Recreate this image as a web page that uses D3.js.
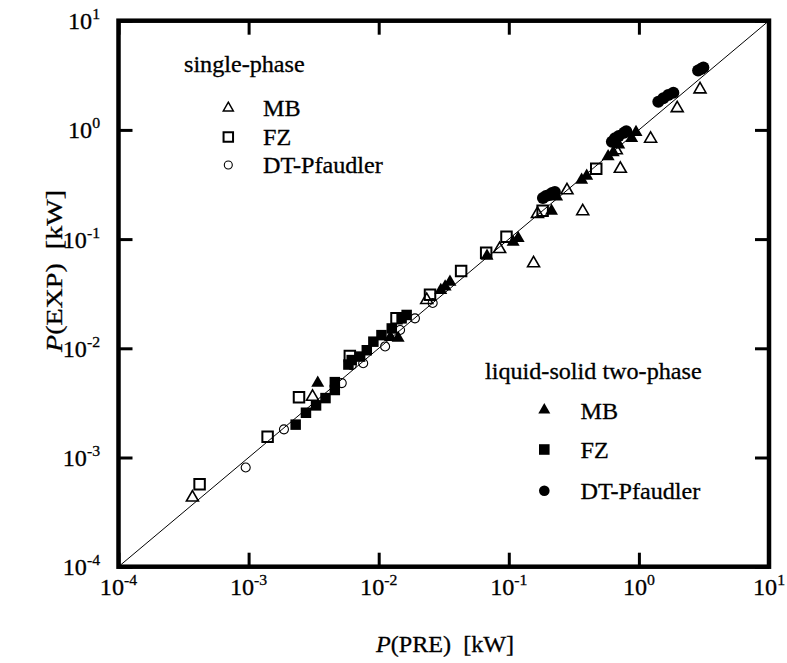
<!DOCTYPE html>
<html>
<head>
<meta charset="utf-8">
<script src="https://cdn.jsdelivr.net/npm/d3@7"></script>
<style>
  body { margin: 0; background: #fff; }
  svg text { font-family: "Liberation Serif", "Times New Roman", serif; fill: #000; stroke: #000; stroke-width: 0.3px; }
</style>
</head>
<body>
<div id="chart"></div>
<script>
// decades on both axes (10^-4 .. 10^1)
const tickExps = [-4, -3, -2, -1, 0, 1];

// single-phase, open markers: [P(PRE), P(EXP)] in kW
const spMB = [[3.7e-4, 4.3e-4], [3.1e-3, 3.6e-3], [0.0234, 0.0277], [0.085, 0.081], [0.155, 0.060],
  [0.166, 0.17], [0.28, 0.28], [0.37, 0.18], [0.67, 0.65], [0.72, 0.44], [1.23, 0.83], [1.97, 1.58], [2.95, 2.35]];
const spFZ = [[4.2e-4, 5.7e-4], [1.4e-3, 1.55e-3], [2.44e-3, 3.56e-3], [6.0e-3, 8.5e-3], [0.0137, 0.0188],
  [0.0248, 0.031], [0.043, 0.051], [0.067, 0.075], [0.096, 0.105], [0.182, 0.182], [0.47, 0.44]];
const spDT = [[9.5e-4, 8.1e-4], [1.87e-3, 1.81e-3], [5.2e-3, 4.8e-3], [6.2e-3, 7.0e-3], [7.6e-3, 7.3e-3],
  [0.0112, 0.0104], [0.0146, 0.0147], [0.019, 0.0188], [0.026, 0.026]];

// liquid-solid two-phase, filled markers
const lsMB = [[3.4e-3, 4.8e-3], [0.0123, 0.0126], [0.0141, 0.0124], [0.030, 0.034], [0.0324, 0.0366],
  [0.0353, 0.0405], [0.068, 0.070], [0.108, 0.094], [0.118, 0.102], [0.213, 0.181], [0.233, 0.244],
  [0.363, 0.347], [0.397, 0.378], [0.58, 0.57], [0.635, 0.62], [0.70, 0.73], [0.88, 0.84], [0.95, 0.95]];
const lsFZ = [[2.3e-3, 2.0e-3], [2.76e-3, 2.57e-3], [3.3e-3, 3.0e-3], [3.9e-3, 3.5e-3], [4.6e-3, 4.15e-3],
  [4.6e-3, 4.9e-3], [5.85e-3, 7.1e-3], [6.2e-3, 7.8e-3], [7.2e-3, 8.4e-3], [8.1e-3, 9.6e-3],
  [9.1e-3, 0.0115], [0.0105, 0.0132], [0.0126, 0.0152], [0.015, 0.0188], [0.0164, 0.0202]];
const lsDT = [[0.183, 0.238], [0.193, 0.248], [0.204, 0.254], [0.215, 0.264], [0.226, 0.27],
  [0.62, 0.78], [0.655, 0.84], [0.70, 0.88], [0.77, 0.94], [0.80, 0.97],
  [1.41, 1.81], [1.54, 1.95], [1.68, 2.09], [1.84, 2.19], [2.85, 3.5], [3.0, 3.61], [3.13, 3.73]];

const legendNames = ['MB', 'FZ', 'DT-Pfaudler'];

const W = 787, H = 663;
const margin = { top: 20.7, right: 18, bottom: 96.3, left: 118.5 };
const width = W - margin.left - margin.right;
const height = H - margin.top - margin.bottom;
const stretch = 1.05; // text in the original is a bit wider than plain Times
const fs = '23px';

const svg = d3.select('#chart').append('svg').attr('width', W).attr('height', H);
const g = svg.append('g').attr('transform', `translate(${margin.left},${margin.top})`);

const x = d3.scaleLog().domain([1e-4, 10]).range([0, width]);
const y = d3.scaleLog().domain([1e-4, 10]).range([height, 0]);
const ticks = tickExps.map(e => Math.pow(10, e));

// inward ticks on all four sides
const tk = 14;
g.append('g').attr('transform', `translate(0,${height})`)
  .call(d3.axisBottom(x).tickValues(ticks).tickSize(-tk).tickFormat(''));
g.append('g').call(d3.axisTop(x).tickValues(ticks).tickSize(-tk).tickFormat(''));
g.append('g').call(d3.axisLeft(y).tickValues(ticks).tickSize(-tk).tickFormat(''));
g.append('g').attr('transform', `translate(${width},0)`)
  .call(d3.axisRight(y).tickValues(ticks).tickSize(-tk).tickFormat(''));
g.selectAll('.domain').remove();
g.selectAll('.tick line').attr('stroke', '#000').attr('stroke-width', 3);

// 1:1 line
g.append('line')
  .attr('x1', x(1e-4)).attr('y1', y(1e-4))
  .attr('x2', x(10)).attr('y2', y(10))
  .attr('stroke', '#000').attr('stroke-width', 1);

function pow10(parent, px, py, e, anchor) {
  const t = parent.append('g')
    .attr('transform', `translate(${px},${py}) scale(${stretch},1)`)
    .append('text').attr('text-anchor', anchor).style('font-size', fs);
  t.append('tspan').text('10');
  t.append('tspan').attr('dy', -10).style('font-size', '15px').text(e);
}
tickExps.forEach(e => {
  pow10(g, x(Math.pow(10, e)), height + 28, e, 'middle');
  pow10(g, -18.5, y(Math.pow(10, e)) + 8.5, e, 'end');
});

const tri = s => Math.sqrt(3) / 4 * s * s;
function drawSeries(parent, data, type, size, filled, sw) {
  parent.append('g').selectAll('path').data(data).join('path')
    .attr('transform', d => `translate(${x(d[0])},${y(d[1])})`)
    .attr('d', d3.symbol().type(type).size(size))
    .attr('fill', filled ? '#000' : 'none')
    .attr('stroke', filled ? 'none' : '#000')
    .attr('stroke-width', sw);
}
drawSeries(g, spMB, d3.symbolTriangle, tri(12), false, 1.6);
drawSeries(g, spFZ, d3.symbolSquare, 110, false, 2);
drawSeries(g, spDT, d3.symbolCircle, Math.PI * 4.5 * 4.5, false, 1.1);
drawSeries(g, lsFZ, d3.symbolSquare, 110, true, 0);
drawSeries(g, lsMB, d3.symbolTriangle, tri(13), true, 0);
drawSeries(g, lsDT, d3.symbolCircle, Math.PI * 6 * 6, true, 0);

// frame
g.append('rect').attr('width', width).attr('height', height)
  .attr('fill', 'none').attr('stroke', '#000').attr('stroke-width', 4.5);

function label(px, py, str, anchor) {
  return svg.append('g').attr('transform', `translate(${px},${py}) scale(${stretch},1)`)
    .append('text').attr('text-anchor', anchor || 'start').style('font-size', fs).text(str);
}

// legends
const openSyms = [
  { type: d3.symbolTriangle, size: tri(10), sw: 1.5 },
  { type: d3.symbolSquare, size: 90, sw: 2 },
  { type: d3.symbolCircle, size: Math.PI * 4 * 4, sw: 1.1 }
];
const filledSyms = [
  { type: d3.symbolTriangle, size: tri(12) },
  { type: d3.symbolSquare, size: 112 },
  { type: d3.symbolCircle, size: Math.PI * 5.3 * 5.3 }
];
label(184, 72, 'single-phase');
const spRows = [108, 137, 165];
legendNames.forEach((n, i) => {
  svg.append('path').attr('transform', `translate(228.3,${spRows[i]})`)
    .attr('d', d3.symbol().type(openSyms[i].type).size(openSyms[i].size))
    .attr('fill', 'none').attr('stroke', '#000').attr('stroke-width', openSyms[i].sw);
  label(263, spRows[i] + 8, n);
});
label(485, 379, 'liquid-solid two-phase');
const lsRows = [410, 449.5, 490.7];
legendNames.forEach((n, i) => {
  svg.append('path').attr('transform', `translate(544.3,${lsRows[i]})`)
    .attr('d', d3.symbol().type(filledSyms[i].type).size(filledSyms[i].size))
    .attr('fill', '#000');
  label(580.5, lsRows[i] + 8.5, n);
});

// axis titles
const xt = svg.append('g').attr('transform', `translate(445,652) scale(${stretch},1)`)
  .append('text').attr('text-anchor', 'middle').style('font-size', fs);
xt.append('tspan').style('font-style', 'italic').text('P');
xt.append('tspan').text('(PRE)\u00a0\u00a0[kW]');

const yt = svg.append('g').attr('transform', `translate(62,271) rotate(-90) scale(1.22,1)`)
  .append('text').attr('text-anchor', 'middle').style('font-size', fs);
yt.append('tspan').style('font-style', 'italic').text('P');
yt.append('tspan').text('(EXP)\u00a0\u00a0[kW]');
</script>
</body>
</html>
